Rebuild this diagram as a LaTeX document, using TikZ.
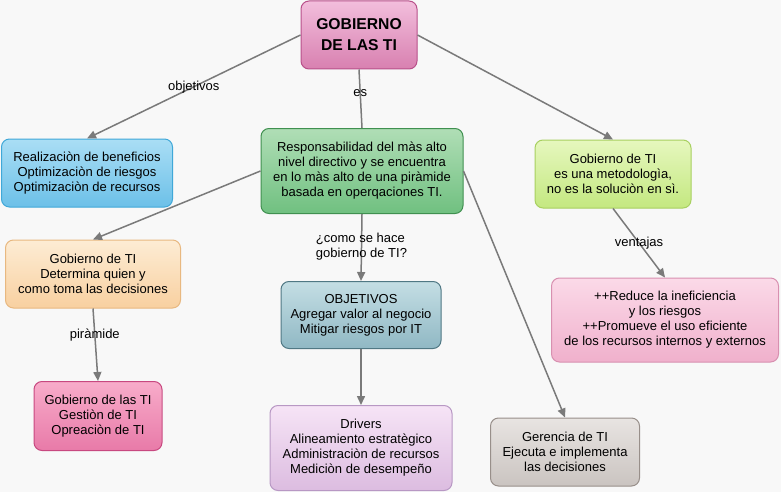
\documentclass[tikz,border=0pt]{standalone}
\usepackage{fontspec}
\setmainfont{Liberation Sans}
\usetikzlibrary{arrows.meta,positioning}
\definecolor{bggray}{RGB}{248,248,248}
\definecolor{linkgray}{RGB}{122,122,122}
\definecolor{rootTop}{RGB}{242,190,220}
\definecolor{rootBot}{RGB}{216,128,176}
\definecolor{rootLine}{RGB}{184,80,138}
\definecolor{blueTop}{RGB}{170,222,245}
\definecolor{blueBot}{RGB}{108,192,232}
\definecolor{blueLine}{RGB}{64,168,216}
\definecolor{greenTop}{RGB}{176,222,182}
\definecolor{greenBot}{RGB}{112,192,128}
\definecolor{greenLine}{RGB}{64,144,80}
\definecolor{limeTop}{RGB}{230,247,190}
\definecolor{limeBot}{RGB}{196,232,128}
\definecolor{limeLine}{RGB}{168,208,96}
\definecolor{peachTop}{RGB}{253,236,212}
\definecolor{peachBot}{RGB}{248,208,160}
\definecolor{peachLine}{RGB}{232,184,128}
\definecolor{tealTop}{RGB}{196,222,228}
\definecolor{tealBot}{RGB}{144,184,196}
\definecolor{tealLine}{RGB}{80,120,132}
\definecolor{roseTop}{RGB}{251,218,232}
\definecolor{roseBot}{RGB}{240,176,204}
\definecolor{roseLine}{RGB}{216,144,176}
\definecolor{pinkTop}{RGB}{248,172,202}
\definecolor{pinkBot}{RGB}{232,122,168}
\definecolor{pinkLine}{RGB}{200,72,128}
\definecolor{lilacTop}{RGB}{246,228,246}
\definecolor{lilacBot}{RGB}{220,188,224}
\definecolor{lilacLine}{RGB}{184,152,196}
\definecolor{greyTop}{RGB}{232,228,226}
\definecolor{greyBot}{RGB}{202,196,192}
\definecolor{greyLine}{RGB}{152,143,138}

\begin{document}
\begin{tikzpicture}[x=1pt, y=-1pt,
    concept/.style={draw, line width=1pt, rounded corners=8pt, align=center,
      inner sep=0pt, font=\fontsize{13}{15}\selectfont},
    link/.style={draw=linkgray, line width=1.5pt, -{Triangle[length=9pt,width=8pt]}},
    plainlink/.style={draw=linkgray, line width=1.5pt},
    linklabel/.style={font=\fontsize{13}{15}\selectfont, inner sep=1pt, align=left}]
    % background and page size
    \fill[bggray] (0,0) rectangle (781,492);
    \useasboundingbox (0,0) rectangle (781,492);
    % root concept
    \node[concept, draw=rootLine, top color=rootTop, bottom color=rootBot,
      minimum width=116pt, minimum height=68pt,
      font=\bfseries\fontsize{15.7}{21}\selectfont] (gob) at (359,35) {GOBIERNO\\DE LAS TI};
    % first level
    \node[concept, draw=blueLine, top color=blueTop, bottom color=blueBot,
      minimum width=171pt, minimum height=68pt] (benef) at (87,173)
      {Realizaciòn de beneficios\\Optimizaciòn de riesgos\\Optimizaciòn de recursos};
    \node[concept, draw=greenLine, top color=greenTop, bottom color=greenBot,
      minimum width=202pt, minimum height=85pt] (resp) at (362,171)
      {Responsabilidad del màs alto\\nivel directivo y se encuentra\\en lo màs alto de una piràmide\\basada en operqaciones TI.};
    \node[concept, draw=limeLine, top color=limeTop, bottom color=limeBot,
      minimum width=156pt, minimum height=68pt] (metod) at (613,174)
      {Gobierno de TI\\es una metodologìa,\\no es la soluciòn en sì.};
    % second level
    \node[concept, draw=peachLine, top color=peachTop, bottom color=peachBot,
      minimum width=175pt, minimum height=68pt] (quien) at (93,274)
      {Gobierno de TI\\Determina quien y\\como toma las decisiones};
    \node[concept, draw=tealLine, top color=tealTop, bottom color=tealBot,
      minimum width=160pt, minimum height=67pt] (objet) at (361,315)
      {OBJETIVOS\\Agregar valor al negocio\\Mitigar riesgos por IT};
    \node[concept, draw=roseLine, top color=roseTop, bottom color=roseBot,
      minimum width=227pt, minimum height=84pt] (venta) at (665,320)
      {++Reduce la ineficiencia\\y los riesgos\\++Promueve el uso eficiente\\de los recursos internos y externos};
    % third level
    \node[concept, draw=pinkLine, top color=pinkTop, bottom color=pinkBot,
      minimum width=128pt, minimum height=69pt] (gest) at (98,416)
      {Gobierno de las TI\\Gestiòn de TI\\Opreaciòn de TI};
    \node[concept, draw=lilacLine, top color=lilacTop, bottom color=lilacBot,
      minimum width=182pt, minimum height=85pt] (driv) at (361,448)
      {Drivers\\Alineamiento estratègico\\Administraciòn de recursos\\Mediciòn de desempeño};
    \node[concept, draw=greyLine, top color=greyTop, bottom color=greyBot,
      minimum width=149pt, minimum height=68pt] (geren) at (565,452)
      {Gerencia de TI\\Ejecuta e implementa\\las decisiones};
    % links
    \draw[link] (gob.west) -- node[linklabel, pos=0.5] (lobj) {objetivos} (benef.north);
    \draw[plainlink] (gob.south) -- node[linklabel, pos=0.4] (les) {es} (resp.north);
    \draw[link] (gob.east) -- (metod.north);
    \draw[link] (resp.west) -- (quien.north);
    \draw[link] (resp.south) -- node[linklabel, pos=0.49] (lcomo) {¿como se hace\\gobierno de TI?} (objet.north);
    \draw[link] (resp.east) -- (geren.north);
    \draw[link] (metod.south) -- node[linklabel, pos=0.5] (lvent) {ventajas} (venta.north);
    \draw[link] (quien.south) -- node[linklabel, pos=0.36] (lpir) {piràmide} (gest.north);
    \draw[link] (objet.south) -- (driv.north);
\end{tikzpicture}
\end{document}
